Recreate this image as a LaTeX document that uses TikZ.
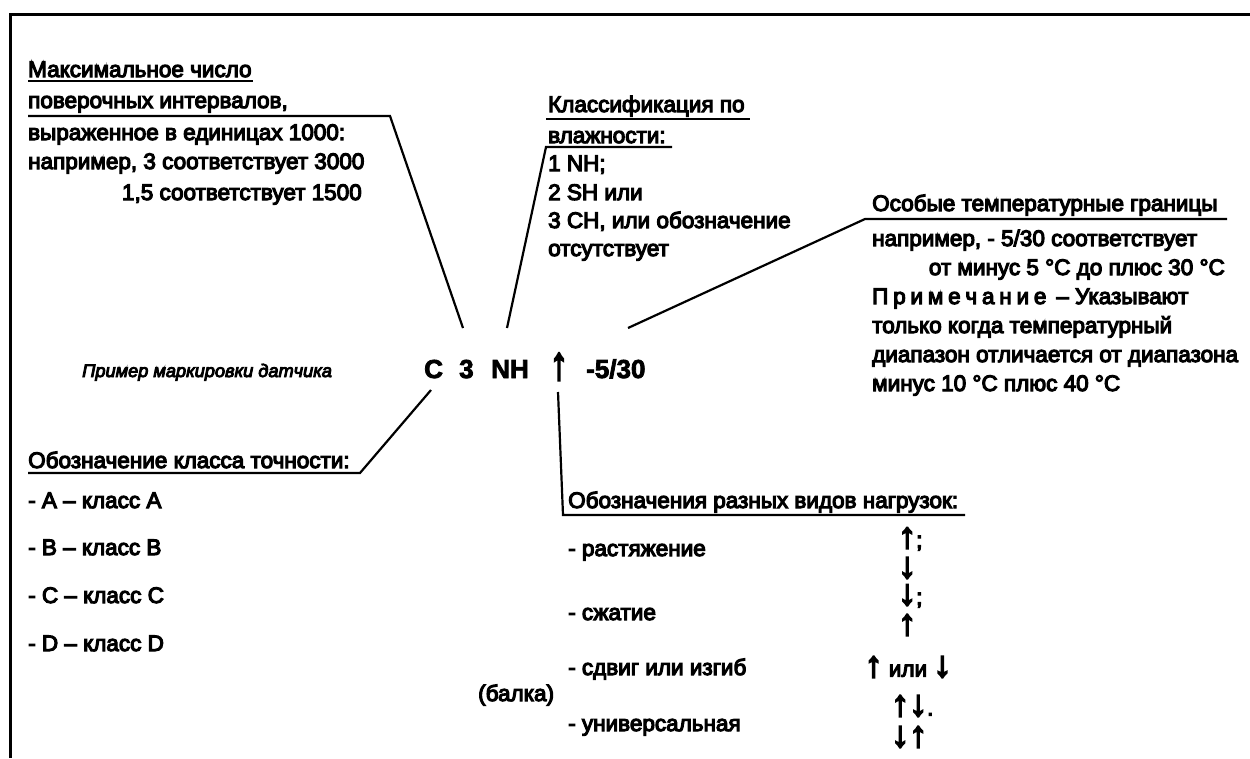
\documentclass[tikz,border=0pt]{standalone}
\usepackage{fontspec}
\setmainfont{Liberation Sans}
\newfontfamily\heavy{Liberation Sans}[FakeBold=5]
\newfontfamily\heavyb{Liberation Sans}[FakeBold=3]
\newcommand\lsk{\kern 4.8pt}
\newcommand\upar{\scalebox{1.6}[1.6]{↑}}
\newcommand\dnar{\scalebox{1.6}[1.6]{↓}}
\newcommand\bigup{\scalebox{1.6}[2.0]{↑}}
\begin{document}
\begin{tikzpicture}[x=1pt,y=-1pt,
  txt/.style={inner sep=0pt,anchor=base west,font=\heavy\fontsize{22.5}{27}\selectfont},
  txtr/.style={txt,anchor=base east},
  big/.style={inner sep=0pt,anchor=base west,font=\heavyb\bfseries\fontsize{26}{30}\selectfont},
  arr/.style={inner sep=0pt,anchor=center,font=\heavy\fontsize{22.5}{27}\selectfont},
  arrl/.style={arr,anchor=west},
  ital/.style={inner sep=0pt,anchor=base west,font=\heavy\itshape\fontsize{18.2}{23}\selectfont},
  ln/.style={line width=2.2pt,line join=miter},
  frm/.style={line width=3pt}]
\useasboundingbox (0,0) rectangle (1250,758);
% frame
\coordinate (f1) at (10,758);
\coordinate (f2) at (10,14);
\coordinate (f3) at (1250,14);
\draw[frm] (f1) -- (f2) -- (f3);

% block 1
\node[txt] (m1) at (28,77) {Максимальное число};
\node[txt] (m2) at (28,108) {поверочных интервалов,};
\node[txt] (m3) at (28,140) {выраженное в единицах 1000:};
\node[txt] (m4) at (28,169) {например, 3 соответствует 3000};
\node[txtr] (m5) at (362,200) {1,5 соответствует 1500};
\coordinate (u1a) at (28,81);
\coordinate (u1b) at (253,81);
\coordinate (u2a) at (28,116);
\coordinate (u2b) at (390,116);

% block 2
\node[txt] (k1) at (548,112) {Классификация по};
\node[txt] (k2) at (548,143) {влажности:};
\node[txt] (k3) at (548,171) {1 NH;};
\node[txt] (k4) at (548,200) {2 SH или};
\node[txt] (k5) at (548,228) {3 CH, или обозначение};
\node[txt] (k6) at (548,256) {отсутствует};
\coordinate (v1a) at (546,119);
\coordinate (v1b) at (750,119);
\coordinate (v2a) at (546,147);
\coordinate (v2b) at (672,147);

% block 3
\node[txt] (t1) at (872,211) {Особые температурные границы};
\node[txt] (t2) at (872,246) {например, - 5/30 соответствует};
\node[txtr] (t3) at (1225,275) {от минус 5 °C до плюс 30 °C};
\node[txt] (t4) at (872,304) {П\lsk р\lsk и\lsk м\lsk е\lsk ч\lsk а\lsk н\lsk и\lsk е \,– Указывают};
\node[txt] (t5) at (872,333) {только когда температурный};
\node[txt] (t6) at (872,362) {диапазон отличается от диапазона};
\node[txt] (t7) at (872,391) {минус 10 °C плюс 40 °C};
\coordinate (w1a) at (865,219);
\coordinate (w1b) at (1227,219);

% marking
\node[ital] (ex) at (82,377) {Пример маркировки датчика};
\node[big] (mC) at (424,378) {C};
\node[big] (m3n) at (459,378) {3};
\node[big] (mNH) at (491,378) {NH};
\node[inner sep=0pt,anchor=base,font=\heavy\fontsize{23}{30}\selectfont] (mAr) at (559,379) {\bigup};
\node[big] (mT) at (586,378) {-5/30};

% tips
\coordinate (tip1) at (463,328);
\coordinate (tip2) at (507,328);
\coordinate (tip3) at (628,328);
\coordinate (tipC) at (431,390);
\coordinate (tipA) at (558,392);

% leaders
\draw[ln] (u1a) -- (u1b);
\draw[ln] (u2a) -- (u2b) -- (tip1);
\draw[ln] (v1a) -- (v1b);
\draw[ln] (v2b) -- (v2a) -- (tip2);
\draw[ln] (tip3) -- (w1a) -- (w1b);

% accuracy class
\node[txt] (c0) at (28,468) {Обозначение класса точности:};
\node[txt] (c1) at (28,508) {- A – класс A};
\node[txt] (c2) at (28,555) {- B – класс B};
\node[txt] (c3) at (28,603) {- C – класс C};
\node[txt] (c4) at (28,651) {- D – класс D};
\coordinate (x1a) at (28,473);
\coordinate (x1b) at (360,473);
\draw[ln] (x1a) -- (x1b) -- (tipC);

% loads
\node[txt] (l0) at (568,508) {Обозначения разных видов нагрузок:};
\coordinate (y1a) at (563,515);
\coordinate (y1b) at (965,515);
\draw[ln] (tipA) -- (y1a) -- (y1b);
\node[txt] (l1) at (568,556) {- растяжение};
\node[txt] (l2) at (568,620) {- сжатие};
\node[txt] (l3) at (568,675) {- сдвиг или изгиб};
\node[txt] (l3b) at (478,701) {(балка)};
\node[txt] (l4) at (568,731) {- универсальная};
\node[arrl] (a1) at (898,539) {\upar;};
\node[arrl] (a2) at (898,568) {\dnar};
\node[arrl] (a3) at (898,596) {\dnar;};
\node[arrl] (a4) at (898,625) {\upar};
\node[arr] (a5) at (908,667) {\upar\ или \dnar};
\node[arrl] (a6) at (891,706) {\upar\dnar.};
\node[arrl] (a7) at (891,737) {\dnar\upar};
\end{tikzpicture}
\end{document}
